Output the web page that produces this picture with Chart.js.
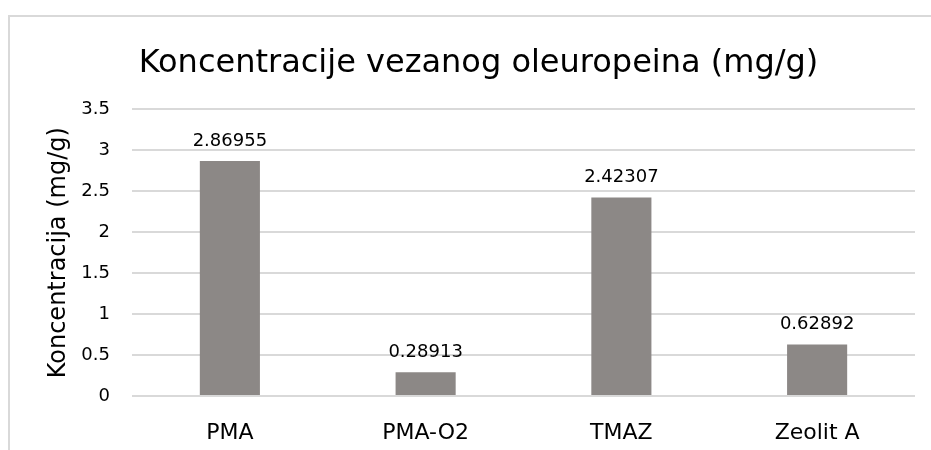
<html>
<head>
<style>
  body { margin: 0; background: #fff; }
  #wrap { width: 931px; height: 450px; }
</style>
</head>
<body>
<div id="wrap"><canvas id="chart" width="931" height="450"></canvas></div>
<script src="https://cdn.jsdelivr.net/npm/chart.js"></script>
<script>
const categories = ['PMA', 'PMA-O2', 'TMAZ', 'Zeolit A'];
const values = [2.86955, 0.28913, 2.42307, 0.62892];
const yTicks = [0, 0.5, 1, 1.5, 2, 2.5, 3, 3.5];

const FONT = "'DejaVu Sans', Verdana, sans-serif";

// light frame like the office chart area border
const frame = {
  id: 'frame',
  beforeDraw(chart) {
    const ctx = chart.ctx;
    ctx.save();
    ctx.strokeStyle = '#d9d9d9';
    ctx.lineWidth = 2;
    ctx.beginPath();
    ctx.moveTo(9, 450);
    ctx.lineTo(9, 16);
    ctx.lineTo(931, 16);
    ctx.stroke();
    ctx.restore();
  }
};

// value labels above each bar
const valueLabels = {
  id: 'valueLabels',
  afterDatasetsDraw(chart) {
    const ctx = chart.ctx;
    const meta = chart.getDatasetMeta(0);
    ctx.save();
    ctx.font = '18px ' + FONT;
    ctx.fillStyle = '#000';
    ctx.textAlign = 'center';
    ctx.textBaseline = 'middle';
    meta.data.forEach((bar, i) => {
      ctx.fillText(String(values[i]), bar.x, bar.y - 20);
    });
    ctx.restore();
  }
};

new Chart(document.getElementById('chart'), {
  type: 'bar',
  data: {
    labels: categories,
    datasets: [{
      data: values,
      backgroundColor: '#8c8886',
      categoryPercentage: 1,
      barPercentage: 0.307
    }]
  },
  options: {
    responsive: false,
    animation: false,
    layout: { padding: { top: 16, right: 16, left: 42, bottom: 0 } },
    plugins: {
      legend: { display: false },
      tooltip: { enabled: false },
      title: {
        display: true,
        text: 'Koncentracije vezanog oleuropeina (mg/g)',
        color: '#000',
        font: { family: FONT, size: 32, weight: 'normal' },
        padding: { top: 28, bottom: 27 }
      }
    },
    scales: {
      x: {
        grid: { display: false },
        border: { display: false },
        ticks: { color: '#000', font: { family: FONT, size: 22 }, padding: 16 },
        afterFit(scale) { scale.height = 54; }
      },
      y: {
        min: 0,
        max: 3.5,
        afterBuildTicks(scale) { scale.ticks = yTicks.map(v => ({ value: v })); },
        grid: { color: '#d9d9d9', lineWidth: 2, drawTicks: false },
        border: { display: false },
        ticks: {
          color: '#000',
          font: { family: FONT, size: 18 },
          padding: 22,
          callback: v => String(v)
        },
        title: {
          display: true,
          text: 'Koncentracija (mg/g)',
          color: '#000',
          font: { family: FONT, size: 24 },
          padding: { top: 2, bottom: 0 }
        },
        afterFit(scale) { scale.width = 90; }
      }
    }
  },
  plugins: [frame, valueLabels]
});
</script>
</body>
</html>
